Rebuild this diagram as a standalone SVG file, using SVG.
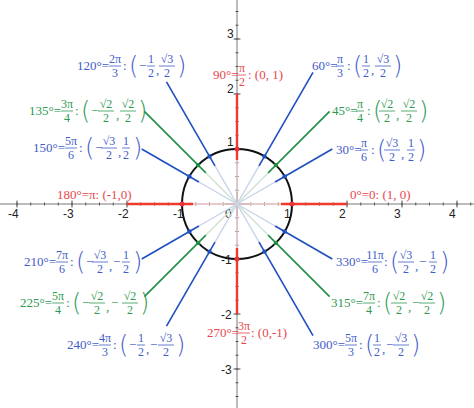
<svg xmlns="http://www.w3.org/2000/svg" width="474" height="408" viewBox="0 0 474 408">
<style>
text{font-family:"Liberation Serif","DejaVu Serif",serif;font-size:13px}
.ax text{font-family:"Liberation Sans",sans-serif;font-size:12px;fill:#222}
.n{font-size:12px;text-anchor:middle}
.p{font-size:24px;font-family:"DejaVu Sans","Liberation Sans",sans-serif;font-weight:200}
.b text{fill:#3f5cc8}.b line{stroke:#3f5cc8;stroke-width:0.8}
.g text{fill:#2e9a50}.g line{stroke:#2e9a50;stroke-width:0.8}
.r text{fill:#e8464c}.r line{stroke:#e8464c;stroke-width:0.8}
.pb{stroke:#c6d4ec;stroke-width:1.4}.pg{stroke:#cde3d0;stroke-width:1.4}.pr{stroke:#f6cfd0;stroke-width:1.4}
.db{stroke:#1f4fc0;stroke-width:1.6}.dg{stroke:#1f9040;stroke-width:1.6}.dr{stroke:#f03a2e;stroke-width:2.4}
</style>
<rect width="474" height="408" fill="#fff"/>
<g id="axes" class="ax">
<line x1="0" y1="204" x2="474" y2="204" stroke="#555" stroke-width="0.8"/>
<line x1="237" y1="0" x2="237" y2="408" stroke="#555" stroke-width="0.8"/>
<line x1="16.5" y1="204" x2="474" y2="204" stroke="#555" stroke-width="3" stroke-dasharray="1 12.75"/>
<line x1="16.5" y1="204" x2="474" y2="204" stroke="#555" stroke-width="7" stroke-dasharray="1 54"/>
<line x1="237" y1="-16.5" x2="237" y2="408" stroke="#555" stroke-width="3" stroke-dasharray="1 12.75"/>
<line x1="237" y1="-16.5" x2="237" y2="408" stroke="#555" stroke-width="7" stroke-dasharray="1 54"/>
<line x1="225" y1="204" x2="249" y2="204" stroke="#777" stroke-width="1.5"/>
<line x1="237" y1="192" x2="237" y2="216" stroke="#777" stroke-width="1.5"/>
<text x="8" y="218">-4</text><text x="63" y="218">-3</text><text x="118" y="218">-2</text><text x="173" y="218">-1</text>
<text x="225" y="218">0</text><text x="284" y="218">1</text><text x="339" y="218">2</text><text x="394" y="218">3</text><text x="449" y="218">4</text>
<text x="227" y="38">3</text><text x="227" y="93">2</text><text x="227" y="146">1</text>
<text x="221" y="264">-1</text><text x="221" y="319">-2</text><text x="221" y="374">-3</text>
</g>
<g id="connectors">
<line class="pr" x1="237" y1="204" x2="281" y2="204"/><line class="pr" x1="237" y1="204" x2="193" y2="204"/>
<line class="pr" x1="237" y1="204" x2="237" y2="160"/><line class="pr" x1="237" y1="204" x2="237" y2="248"/>
<line class="dr" x1="281" y1="204" x2="347" y2="204"/><line class="dr" x1="193" y1="204" x2="127" y2="204"/>
<line class="dr" x1="237" y1="160" x2="237" y2="94"/><line class="dr" x1="237" y1="248" x2="237" y2="314"/>
<line class="pb" x1="237" y1="204" x2="259" y2="165.9"/><line class="db" x1="259" y1="165.9" x2="313" y2="72.4"/>
<line class="pg" x1="237" y1="204" x2="268.1" y2="172.9"/><line class="dg" x1="268.1" y1="172.9" x2="329.6" y2="111.4"/>
<line class="pb" x1="237" y1="204" x2="275.1" y2="182"/><line class="db" x1="275.1" y1="182" x2="332.3" y2="149"/>
<line class="pb" x1="237" y1="204" x2="215" y2="165.9"/><line class="db" x1="215" y1="165.9" x2="166.5" y2="81.9"/>
<line class="pg" x1="237" y1="204" x2="205.9" y2="172.9"/><line class="dg" x1="205.9" y1="172.9" x2="144.4" y2="111.4"/>
<line class="pb" x1="237" y1="204" x2="198.9" y2="182"/><line class="db" x1="198.9" y1="182" x2="141.7" y2="149"/>
<line class="pb" x1="237" y1="204" x2="198.9" y2="226"/><line class="db" x1="198.9" y1="226" x2="141.7" y2="259"/>
<line class="pg" x1="237" y1="204" x2="205.9" y2="235.1"/><line class="dg" x1="205.9" y1="235.1" x2="144.4" y2="296.6"/>
<line class="pb" x1="237" y1="204" x2="215" y2="242.1"/><line class="db" x1="215" y1="242.1" x2="166.5" y2="326.1"/>
<line class="pb" x1="237" y1="204" x2="259" y2="242.1"/><line class="db" x1="259" y1="242.1" x2="313" y2="335.6"/>
<line class="pg" x1="237" y1="204" x2="268.1" y2="235.1"/><line class="dg" x1="268.1" y1="235.1" x2="329.6" y2="296.6"/>
<line class="pb" x1="237" y1="204" x2="275.1" y2="226"/><line class="db" x1="275.1" y1="226" x2="332.3" y2="259"/>
</g>
<g id="circle">
<circle cx="237" cy="204" r="55" fill="none" stroke="#111" stroke-width="2"/>
<g fill="#e8343a"><circle cx="292" cy="204" r="2.5"/><circle cx="182" cy="204" r="2.5"/><circle cx="237" cy="149" r="2.5"/><circle cx="237" cy="259" r="2.5"/></g>
<g fill="#1f4fc0"><circle cx="264.5" cy="156.4" r="2.2"/><circle cx="284.6" cy="176.5" r="2.2"/><circle cx="209.5" cy="156.4" r="2.2"/><circle cx="189.4" cy="176.5" r="2.2"/><circle cx="189.4" cy="231.5" r="2.2"/><circle cx="209.5" cy="251.6" r="2.2"/><circle cx="264.5" cy="251.6" r="2.2"/><circle cx="284.6" cy="231.5" r="2.2"/></g>
<g fill="#1f9040"><circle cx="275.9" cy="165.1" r="2.2"/><circle cx="198.1" cy="165.1" r="2.2"/><circle cx="198.1" cy="242.9" r="2.2"/><circle cx="275.9" cy="242.9" r="2.2"/></g>
</g>
<g id="l0" class="r"><text x="350" y="199">0°=0: (1, 0)</text></g>
<g id="l180" class="r"><text x="57" y="199">180°=π: (-1,0)</text></g>
<g id="l90" class="r" transform="translate(213,75)"><text y="4">90°=</text><text class="n" x="29" y="-3">π</text><line x1="25" x2="33"/><text class="n" x="29" y="11">2</text><text x="35" y="4">: (0, 1)</text></g>
<g id="l270" class="r" transform="translate(207,333)"><text y="4">270°=</text><text class="n" x="37" y="-3">3π</text><line x1="31" x2="43"/><text class="n" x="37" y="11">2</text><text x="44" y="4">: (0,-1)</text></g>
<g id="l60" class="b" transform="translate(312,66)"><text y="4">60°=</text><text class="n" x="28" y="-3">π</text><line x1="24" x2="32"/><text class="n" x="28" y="11">3</text><text x="35" y="4">:</text><text class="p" x="41" y="8">(</text><text class="n" x="54" y="-3">1</text><line x1="50" x2="58"/><text class="n" x="54" y="11">2</text><text x="59" y="8">,</text><text class="n" x="71" y="-3">√3</text><line x1="63" x2="79"/><text class="n" x="71" y="11">2</text><text class="p" x="81" y="8">)</text></g>
<g id="l45" class="g" transform="translate(332,111)"><text y="4">45°=</text><text class="n" x="28" y="-3">π</text><line x1="24" x2="32"/><text class="n" x="28" y="11">4</text><text x="35" y="4">:</text><text class="p" x="41" y="8">(</text><text class="n" x="55" y="-3">√2</text><line x1="47" x2="63"/><text class="n" x="55" y="11">2</text><text x="64" y="8">,</text><text class="n" x="77" y="-3">√2</text><line x1="69" x2="85"/><text class="n" x="77" y="11">2</text><text class="p" x="87" y="8">)</text></g>
<g id="l30" class="b" transform="translate(336,150)"><text y="4">30°=</text><text class="n" x="28" y="-3">π</text><line x1="24" x2="32"/><text class="n" x="28" y="11">6</text><text x="35" y="4">:</text><text class="p" x="41" y="8">(</text><text class="n" x="56" y="-3">√3</text><line x1="48" x2="64"/><text class="n" x="56" y="11">2</text><text x="65" y="8">,</text><text class="n" x="75" y="-3">1</text><line x1="71" x2="79"/><text class="n" x="75" y="11">2</text><text class="p" x="81" y="8">)</text></g>
<g id="l120" class="b" transform="translate(77,66)"><text y="4">120°=</text><text class="n" x="38" y="-3">2π</text><line x1="32" x2="44"/><text class="n" x="38" y="11">3</text><text x="46" y="4">:</text><text class="p" x="52" y="8">(</text><text x="62" y="4">−</text><text class="n" x="74" y="-3">1</text><line x1="70" x2="78"/><text class="n" x="74" y="11">2</text><text x="79" y="8">,</text><text class="n" x="90" y="-3">√3</text><line x1="82" x2="98"/><text class="n" x="90" y="11">2</text><text class="p" x="100" y="8">)</text></g>
<g id="l135" class="g" transform="translate(29,111)"><text y="4">135°=</text><text class="n" x="38" y="-3">3π</text><line x1="32" x2="44"/><text class="n" x="38" y="11">4</text><text x="46" y="4">:</text><text class="p" x="52" y="8">(</text><text x="62" y="4">−</text><text class="n" x="77" y="-3">√2</text><line x1="69" x2="85"/><text class="n" x="77" y="11">2</text><text x="87" y="8">,</text><text class="n" x="99" y="-3">√2</text><line x1="91" x2="107"/><text class="n" x="99" y="11">2</text><text class="p" x="109" y="8">)</text></g>
<g id="l150" class="b" transform="translate(33,148)"><text y="4">150°=</text><text class="n" x="38" y="-3">5π</text><line x1="32" x2="44"/><text class="n" x="38" y="11">6</text><text x="46" y="4">:</text><text class="p" x="52" y="8">(</text><text x="62" y="4">−</text><text class="n" x="76" y="-3">√3</text><line x1="68" x2="84"/><text class="n" x="76" y="11">2</text><text x="85" y="8">,</text><text class="n" x="93" y="-3">1</text><line x1="89" x2="97"/><text class="n" x="93" y="11">2</text><text class="p" x="100" y="8">)</text></g>
<g id="l210" class="b" transform="translate(24,262)"><text y="4">210°=</text><text class="n" x="38" y="-3">7π</text><line x1="32" x2="44"/><text class="n" x="38" y="11">6</text><text x="46" y="4">:</text><text class="p" x="52" y="8">(</text><text x="62" y="4">−</text><text class="n" x="76" y="-3">√3</text><line x1="68" x2="84"/><text class="n" x="76" y="11">2</text><text x="85" y="8">,</text><text x="89" y="4">−</text><text class="n" x="102" y="-3">1</text><line x1="98" x2="106"/><text class="n" x="102" y="11">2</text><text class="p" x="109" y="8">)</text></g>
<g id="l225" class="g" transform="translate(20,303)"><text y="4">225°=</text><text class="n" x="38" y="-3">5π</text><line x1="32" x2="44"/><text class="n" x="38" y="11">4</text><text x="46" y="4">:</text><text class="p" x="52" y="8">(</text><text x="62" y="4">−</text><text class="n" x="77" y="-3">√2</text><line x1="69" x2="85"/><text class="n" x="77" y="11">2</text><text x="86" y="8">,</text><text x="91" y="4">−</text><text class="n" x="110" y="-3">√2</text><line x1="102" x2="118"/><text class="n" x="110" y="11">2</text><text class="p" x="120" y="8">)</text></g>
<g id="l240" class="b" transform="translate(67,345)"><text y="4">240°=</text><text class="n" x="38" y="-3">4π</text><line x1="32" x2="44"/><text class="n" x="38" y="11">3</text><text x="46" y="4">:</text><text class="p" x="52" y="8">(</text><text x="62" y="4">−</text><text class="n" x="74" y="-3">1</text><line x1="70" x2="78"/><text class="n" x="74" y="11">2</text><text x="79" y="8">,</text><text x="83" y="4">−</text><text class="n" x="99" y="-3">√3</text><line x1="91" x2="107"/><text class="n" x="99" y="11">2</text><text class="p" x="109" y="8">)</text></g>
<g id="l330" class="b" transform="translate(336,262)"><text y="4">330°=</text><text class="n" x="39" y="-3">11π</text><line x1="32" x2="46"/><text class="n" x="39" y="11">6</text><text x="48" y="4">:</text><text class="p" x="54" y="8">(</text><text class="n" x="70" y="-3">√3</text><line x1="62" x2="78"/><text class="n" x="70" y="11">2</text><text x="79" y="8">,</text><text x="83" y="4">−</text><text class="n" x="97" y="-3">1</text><line x1="93" x2="101"/><text class="n" x="97" y="11">2</text><text class="p" x="104" y="8">)</text></g>
<g id="l315" class="g" transform="translate(331,303)"><text y="4">315°=</text><text class="n" x="38" y="-3">7π</text><line x1="32" x2="44"/><text class="n" x="38" y="11">4</text><text x="46" y="4">:</text><text class="p" x="52" y="8">(</text><text class="n" x="68" y="-3">√2</text><line x1="60" x2="76"/><text class="n" x="68" y="11">2</text><text x="77" y="8">,</text><text x="81" y="4">−</text><text class="n" x="96" y="-3">√2</text><line x1="88" x2="104"/><text class="n" x="96" y="11">2</text><text class="p" x="106" y="8">)</text></g>
<g id="l300" class="b" transform="translate(313,345)"><text y="4">300°=</text><text class="n" x="38" y="-3">5π</text><line x1="32" x2="44"/><text class="n" x="38" y="11">3</text><text x="46" y="4">:</text><text class="p" x="52" y="8">(</text><text class="n" x="64" y="-3">1</text><line x1="60" x2="68"/><text class="n" x="64" y="11">2</text><text x="69" y="8">,</text><text x="73" y="4">−</text><text class="n" x="88" y="-3">√3</text><line x1="80" x2="96"/><text class="n" x="88" y="11">2</text><text class="p" x="98" y="8">)</text></g>
</svg>
